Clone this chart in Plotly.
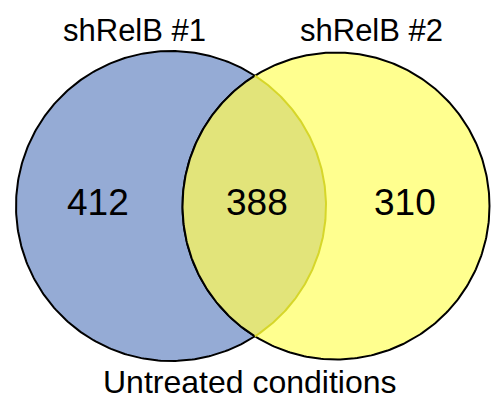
import numpy as np
import plotly.graph_objects as go

# ---- data ----
set_names = ["shRelB #1", "shRelB #2"]
region_counts = [412, 388, 310]          # only #1, both, only #2
caption = "Untreated conditions"

# ---- geometry (pixel-like coordinates) ----
W, H = 492, 402
c1 = (171.0, 206.0); r1 = 155.0
c2 = (336.0, 206.0); r2 = 153.5

BLUE = "#95abd5"
YELLOW = "#ffff8f"
OVERLAP = "#e2e47a"
OVERLAP_EDGE = "#d6d62a"

def circle_pts(c, r, t0=0, t1=2*np.pi, n=400):
    t = np.linspace(t0, t1, n)
    return c[0] + r*np.cos(t), c[1] + r*np.sin(t)

# intersection points
d = c2[0] - c1[0]
a = (d**2 + r1**2 - r2**2) / (2*d)
h = np.sqrt(r1**2 - a**2)
xi = c1[0] + a
p_top = (xi, c1[1] - h)
p_bot = (xi, c1[1] + h)

fig = go.Figure()

x, y = circle_pts(c1, r1)
fig.add_trace(go.Scatter(x=x, y=y, fill="toself", fillcolor=BLUE, mode="lines",
                         line=dict(color="black", width=2), hoverinfo="skip"))
x, y = circle_pts(c2, r2)
fig.add_trace(go.Scatter(x=x, y=y, fill="toself", fillcolor=YELLOW, mode="lines",
                         line=dict(color="black", width=2), hoverinfo="skip"))

# lens: arc of circle1 (right side) + arc of circle2 (left side)
ang1_top = np.arctan2(p_top[1]-c1[1], p_top[0]-c1[0])
ang1_bot = np.arctan2(p_bot[1]-c1[1], p_bot[0]-c1[0])
xa, ya = circle_pts(c1, r1, ang1_top, ang1_bot, 200)
ang2_bot = np.arctan2(p_bot[1]-c2[1], p_bot[0]-c2[0])
ang2_top = np.arctan2(p_top[1]-c2[1], p_top[0]-c2[0]) + 2*np.pi
xb, yb = circle_pts(c2, r2, ang2_bot, ang2_top, 200)
fig.add_trace(go.Scatter(x=np.concatenate([xa, xb]), y=np.concatenate([ya, yb]),
                         fill="toself", fillcolor=OVERLAP, mode="lines",
                         line=dict(width=0), hoverinfo="skip"))
# circle 2 left arc (black) and circle 1 right arc (yellowish)
fig.add_trace(go.Scatter(x=xb, y=yb, mode="lines", line=dict(color="black", width=2), hoverinfo="skip"))
fig.add_trace(go.Scatter(x=xa, y=ya, mode="lines", line=dict(color=OVERLAP_EDGE, width=2), hoverinfo="skip"))

font = "Liberation Sans, Arial, sans-serif"
title_pos = [(134, 30), (371, 30)]
for name, (tx, ty) in zip(set_names, title_pos):
    fig.add_annotation(x=tx, y=ty, text=name, showarrow=False, xanchor="center", yanchor="middle",
                       font=dict(family=font, size=31, color="black"))
count_pos = [(98, 202), (257, 202), (405, 202)]
for cnt, (tx, ty) in zip(region_counts, count_pos):
    fig.add_annotation(x=tx, y=ty, text=str(cnt), showarrow=False, xanchor="center", yanchor="middle",
                       font=dict(family=font, size=37, color="black"))
fig.add_annotation(x=250, y=H, text=caption, showarrow=False, xanchor="center", yanchor="bottom",
                   font=dict(family=font, size=32, color="black"))

fig.update_layout(width=W, height=H, margin=dict(l=0, r=0, t=0, b=0),
                  paper_bgcolor="white", plot_bgcolor="white", showlegend=False,
                  xaxis=dict(range=[0, W], visible=False, fixedrange=True),
                  yaxis=dict(range=[H, 0], visible=False, fixedrange=True))
fig.write_html("out.html", config={"displayModeBar": False},
               post_script="document.body.style.margin='0';document.body.style.overflow='hidden';")
